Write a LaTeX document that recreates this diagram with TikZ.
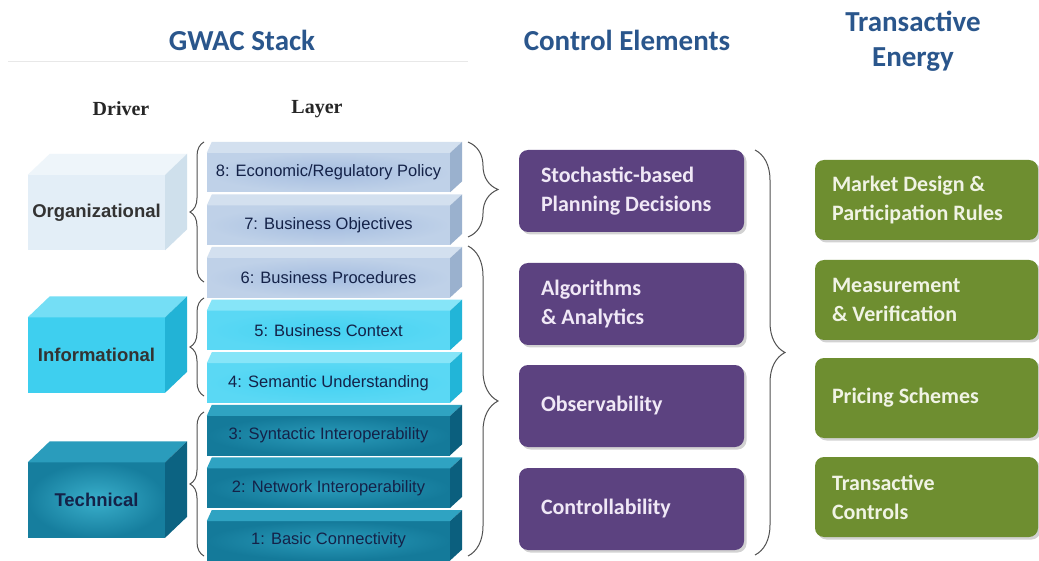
\documentclass[tikz,border=0pt]{standalone}
\usepackage{fontspec}
\setmainfont{Carlito}
\newfontfamily\arialf{Liberation Sans}
\newfontfamily\timesf{Liberation Serif}
\usetikzlibrary{decorations.pathreplacing,shadows,calc}
\definecolor{titleblue}{RGB}{42,86,140}
\definecolor{cepurple}{RGB}{92,66,128}
\definecolor{cetext}{RGB}{240,232,246}
\definecolor{tegreen}{RGB}{110,142,48}
\definecolor{tetext}{RGB}{240,243,228}
\definecolor{navy}{RGB}{20,34,72}
\definecolor{orgfront}{RGB}{227,238,247}
\definecolor{orgtop}{RGB}{238,245,250}
\definecolor{orgside}{RGB}{207,224,236}
\definecolor{infofront}{RGB}{62,207,239}
\definecolor{infotop}{RGB}{116,222,245}
\definecolor{infoside}{RGB}{34,179,214}
\definecolor{techin}{RGB}{58,175,203}
\definecolor{techout}{RGB}{22,126,158}
\definecolor{techtop}{RGB}{42,156,188}
\definecolor{techside}{RGB}{12,99,130}
\definecolor{bluein}{RGB}{165,189,224}
\definecolor{blueout}{RGB}{191,209,232}
\definecolor{bluetop}{RGB}{211,224,239}
\definecolor{blueside}{RGB}{154,177,206}
\definecolor{cyanin}{RGB}{69,210,242}
\definecolor{cyanout}{RGB}{90,216,244}
\definecolor{cyantop}{RGB}{134,229,248}
\definecolor{cyanside}{RGB}{34,181,216}
\definecolor{tealin}{RGB}{42,155,186}
\definecolor{tealout}{RGB}{20,122,154}
\definecolor{tealtop}{RGB}{47,163,194}
\definecolor{tealside}{RGB}{11,95,126}
\definecolor{bracegray}{RGB}{80,80,80}
\tikzset{
  head/.style={font=\bfseries\fontsize{29}{35}\selectfont, text=titleblue, align=center},
  colhead/.style={font=\timesf\bfseries\fontsize{20}{24}\selectfont, text=black!85},
  cebox/.style={rounded corners=9pt, fill=cepurple, minimum width=225pt, minimum height=82pt,
    drop shadow={shadow xshift=2.5pt, shadow yshift=-2.5pt, opacity=0.35}},
  tebox/.style={rounded corners=9pt, fill=tegreen, minimum width=223pt, minimum height=80pt,
    drop shadow={shadow xshift=2.5pt, shadow yshift=-2.5pt, opacity=0.35}},
  cetxt/.style={anchor=west, inner sep=0pt, align=left, text=cetext,
    font=\bfseries\fontsize{22}{29}\selectfont},
  tetxt/.style={anchor=west, inner sep=0pt, align=left, text=tetext,
    font=\bfseries\fontsize{22}{29}\selectfont},
  layer/.style={minimum width=243pt, minimum height=39pt, inner sep=0pt,
    font=\arialf\fontsize{16.5}{18}\selectfont, text=navy},
  driver/.style={minimum width=137pt, minimum height=75pt, inner sep=0pt,
    font=\arialf\bfseries\fontsize{18.5}{20}\selectfont},
  brc/.style={draw=bracegray, line width=1pt, decorate},
}
\newcommand{\gwslab}[7]{% name, center y, text, inner, outer, top, side
  \node[layer, inner color=#4, outer color=#5] (#1) at (328.5,#2) {#3};
  \fill[#6] (#1.north west) -- ++(5,-11) -- ($(#1.north east)+(12,-11)$) -- (#1.north east) -- cycle;
  \fill[#7] (#1.north east) -- ++(12,-11) -- ($(#1.south east)+(12,-11)$) -- (#1.south east) -- cycle;
}
\begin{document}
\begin{tikzpicture}[x=1pt,y=-1pt]
\useasboundingbox[fill=white] (0,0) rectangle (1039,561);

% headings
\node[head] (hg) at (242,40) {GWAC Stack};
\node[head] (hc) at (627,40) {Control Elements};
\node[head] (ht) at (913,41) {Transactive\\Energy};
\draw[gray!18, line width=0.7pt] (8,61) -- (468,61);
\node[colhead] (hd) at (121,109) {Driver};
\node[colhead] (hl) at (317,109) {Layer};

% layers
\gwslab{l8}{172.5}{8: Economic/Regulatory Policy}{bluein}{blueout}{bluetop}{blueside}
\gwslab{l7}{225.1}{7: Business Objectives}{bluein}{blueout}{bluetop}{blueside}
\gwslab{l6}{277.7}{6: Business Procedures}{bluein}{blueout}{bluetop}{blueside}
\gwslab{l5}{330.3}{5: Business Context}{cyanin}{cyanout}{cyantop}{cyanside}
\gwslab{l4}{382.9}{4: Semantic Understanding}{cyanin}{cyanout}{cyantop}{cyanside}
\gwslab{l3}{435.5}{3: Syntactic Interoperability}{tealin}{tealout}{tealtop}{tealside}
\gwslab{l2}{488.1}{2: Network Interoperability}{tealin}{tealout}{tealtop}{tealside}
\gwslab{l1}{540.7}{1: Basic Connectivity}{tealin}{tealout}{tealtop}{tealside}

% drivers
\node[driver, fill=orgfront, text=black!80] (dorg) at (96.5,212.5) {Organizational};
\fill[orgtop] (dorg.north west) -- ++(22,-21) -- ($(dorg.north east)+(22,-21)$) -- (dorg.north east) -- cycle;
\fill[orgside] (dorg.north east) -- ++(22,-21) -- ($(dorg.south east)+(22,-21)$) -- (dorg.south east) -- cycle;
\node[driver, fill=infofront, text=black!80] (dinf) at (96.5,355) {Informational};
\fill[infotop] (dinf.north west) -- ++(22,-21) -- ($(dinf.north east)+(22,-21)$) -- (dinf.north east) -- cycle;
\fill[infoside] (dinf.north east) -- ++(22,-21) -- ($(dinf.south east)+(22,-21)$) -- (dinf.south east) -- cycle;
\node[driver, inner color=techin, outer color=techout, text=navy] (dtec) at (96.5,500) {Technical};
\fill[techtop] (dtec.north west) -- ++(22,-21) -- ($(dtec.north east)+(22,-21)$) -- (dtec.north east) -- cycle;
\fill[techside] (dtec.north east) -- ++(22,-21) -- ($(dtec.south east)+(22,-21)$) -- (dtec.south east) -- cycle;

% left braces
\coordinate (bo1) at (204,282); \coordinate (bo2) at (204,142);
\coordinate (bi1) at (204,396); \coordinate (bi2) at (204,298);
\coordinate (bt1) at (204,556); \coordinate (bt2) at (204,412);
\draw[brc, decoration={brace, amplitude=14pt}] (bo1) -- (bo2);
\draw[brc, decoration={brace, amplitude=14pt}] (bi1) -- (bi2);
\draw[brc, decoration={brace, amplitude=14pt}] (bt1) -- (bt2);

% right braces of the stack
\coordinate (br1) at (468,142); \coordinate (br2) at (468,237);
\coordinate (br3) at (468,246); \coordinate (br4) at (468,556);
\draw[brc, decoration={brace, amplitude=30pt}] (br1) -- (br2);
\draw[brc, decoration={brace, amplitude=30pt}] (br3) -- (br4);

% control elements
\node[cebox] (ce1) at (631.5,191) {};
\node[cetxt] (t1) at ([xshift=22pt]ce1.west) {Stochastic-based\\Planning Decisions};
\node[cebox] (ce2) at (631.5,304) {};
\node[cetxt] (t2) at ([xshift=22pt]ce2.west) {Algorithms\\\& Analytics};
\node[cebox] (ce3) at (631.5,406) {};
\node[cetxt] (t3) at ([xshift=22pt]ce3.west) {Observability};
\node[cebox] (ce4) at (631.5,509) {};
\node[cetxt] (t4) at ([xshift=22pt]ce4.west) {Controllability};

% big brace
\coordinate (bb1) at (755,150); \coordinate (bb2) at (755,555);
\draw[brc, decoration={brace, amplitude=30pt}] (bb1) -- (bb2);

% transactive energy
\node[tebox] (te1) at (926.5,200) {};
\node[tetxt] (u1) at ([xshift=17pt]te1.west) {Market Design \&\\Participation Rules};
\node[tebox] (te2) at (926.5,300) {};
\node[tetxt] (u2) at ([xshift=17pt]te2.west) {Measurement\\\& Verification};
\node[tebox] (te3) at (926.5,398) {};
\node[tetxt] (u3) at ([xshift=17pt]te3.west) {Pricing Schemes};
\node[tebox] (te4) at (926.5,497) {};
\node[tetxt] (u4) at ([xshift=17pt]te4.west) {Transactive\\Controls};
\end{tikzpicture}
\end{document}
